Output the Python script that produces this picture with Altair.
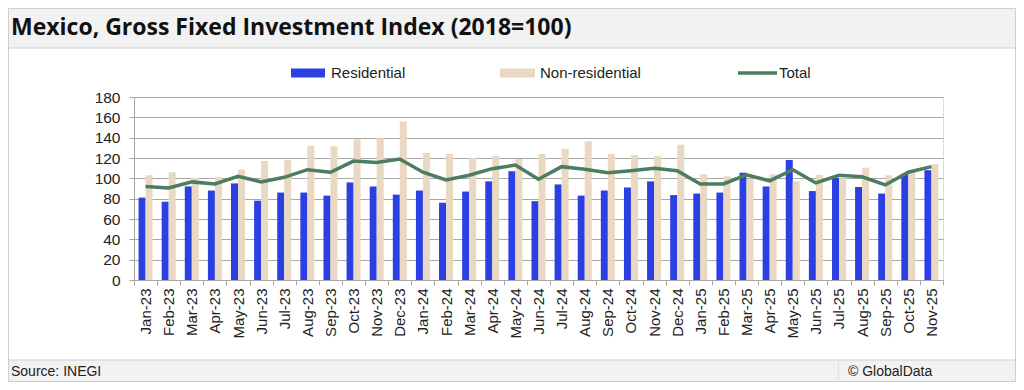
import altair as alt
import pandas as pd

months = ["Jan-23", "Feb-23", "Mar-23", "Apr-23", "May-23", "Jun-23", "Jul-23", "Aug-23",
          "Sep-23", "Oct-23", "Nov-23", "Dec-23", "Jan-24", "Feb-24", "Mar-24", "Apr-24",
          "May-24", "Jun-24", "Jul-24", "Aug-24", "Sep-24", "Oct-24", "Nov-24", "Dec-24",
          "Jan-25", "Feb-25", "Mar-25", "Apr-25", "May-25", "Jun-25", "Jul-25", "Aug-25",
          "Sep-25", "Oct-25", "Nov-25"]
residential = [81, 77, 92, 88, 95, 78, 86, 86, 83, 96, 92, 84,
               88, 76, 87, 97, 107, 77.5, 94, 83, 88, 91, 97, 83.5,
               85, 86, 105.5, 92, 118, 87.5, 100.5, 91.5, 85, 104.5, 108]
non_residential = [103, 106, 100.5, 101.5, 108.5, 117, 118, 132, 131.5, 138.5, 139.5, 156,
                   125, 124, 120, 122, 119, 124, 129, 136.5, 124, 123, 122, 133,
                   104, 102, 99.5, 104, 97, 103.5, 100, 110.5, 103, 106, 114]
total = [92, 90.5, 96.5, 94.5, 102, 96.5, 101, 108.5, 106, 117, 115.5, 119,
         106, 98.5, 103, 109.5, 113, 99, 111.5, 109, 105.5, 107.5, 110, 107.5,
         94.5, 94.5, 103.5, 97.5, 108.5, 95.5, 103, 101.5, 93.5, 106, 111.5]
series_names = ["Residential", "Non-residential", "Total"]

title_text = "Mexico, Gross Fixed Investment Index (2018=100)"
source_text = "Source: INEGI"
credit_text = "\u00a9 GlobalData"

n = len(months)
bars_df = pd.DataFrame({
    "month": months * 2,
    "series": [series_names[0]] * n + [series_names[1]] * n,
    "value": residential + non_residential,
})
line_df = pd.DataFrame({"month": months, "value": total})
dummy = pd.DataFrame({"d": [0]})

BLUE = "#2b3fe3"
BEIGE = "#e9d8c2"
GREEN = "#4b7d5e"
GRID = "#a8a8a8"
TXT = "#222222"
FONT = "Liberation Sans"

W, H = 809, 183

x_enc = alt.X(
    "month:N", sort=months,
    scale=alt.Scale(paddingInner=0, paddingOuter=0),
    axis=alt.Axis(title=None, labelAngle=270, labelFont=FONT, labelFontSize=15,
                  labelColor=TXT, tickBand="extent", tickSize=5, tickColor=GRID,
                  domainColor=GRID, labelPadding=3, grid=False),
)
y_enc = alt.Y(
    "value:Q",
    scale=alt.Scale(domain=[0, 180], nice=False),
    axis=alt.Axis(title=None, values=list(range(0, 181, 20)), labelFont=FONT,
                  labelFontSize=15.5, labelColor=TXT, tickSize=5, tickColor=GRID,
                  domainColor=GRID, gridColor=GRID, labelPadding=9),
)

bars = alt.Chart(bars_df).mark_bar().encode(
    x=x_enc,
    xOffset=alt.XOffset("series:N", sort=series_names[:2],
                        scale=alt.Scale(paddingInner=0, paddingOuter=0.65)),
    y=y_enc,
    color=alt.Color("series:N",
                    scale=alt.Scale(domain=series_names[:2], range=[BLUE, BEIGE]),
                    legend=None),
)

line = alt.Chart(line_df).mark_line(color=GREEN, strokeWidth=3.5).encode(
    x=x_enc, y=y_enc,
)


def rect(x, x2, y, y2, **kw):
    return alt.Chart(dummy).mark_rect(**kw).encode(
        x=alt.value(x), x2=alt.value(x2), y=alt.value(y), y2=alt.value(y2))


def text(x, y, s, **kw):
    return alt.Chart(dummy).mark_text(**kw).encode(
        x=alt.value(x), y=alt.value(y), text=alt.value(s))


# plot origin is at page (134, 97)
frame = rect(-125.5, 881.5, -88.5, 284.5, fillOpacity=0, stroke="#cfcfcf", strokeWidth=1)
title_bar = rect(-125.5, 881.5, -88.5, -49, fill="#f2f2f2", stroke="#cfcfcf", strokeWidth=1)
footer_bar = rect(-125.5, 881.5, 263, 284.5, fill="#f2f2f2", stroke="#cfcfcf", strokeWidth=1)
footer_div = rect(704, 704.5, 263, 284.5, fill="#cfcfcf")

title = text(-123, -62, title_text, font="Open Sans", fontSize=23, fontWeight="bold",
             color="#111111", align="left", baseline="alphabetic")
source = text(-123, 275, source_text, font=FONT, fontSize=14, color=TXT,
              align="left", baseline="middle")
credit = text(714, 275, credit_text, font=FONT, fontSize=14, color=TXT,
              align="left", baseline="middle")

leg_y = -24
leg_res = rect(157, 191, leg_y - 4.5, leg_y + 4.5, fill=BLUE)
leg_res_t = text(197, leg_y, series_names[0], font=FONT, fontSize=15, color=TXT,
                 align="left", baseline="middle")
leg_non = rect(366, 401, leg_y - 4.5, leg_y + 4.5, fill=BEIGE)
leg_non_t = text(406, leg_y, series_names[1], font=FONT, fontSize=15, color=TXT,
                 align="left", baseline="middle")
leg_tot = alt.Chart(dummy).mark_rule(color=GREEN, strokeWidth=3.5).encode(
    x=alt.value(604), x2=alt.value(643), y=alt.value(leg_y))
leg_tot_t = text(645, leg_y, series_names[2], font=FONT, fontSize=15, color=TXT,
                 align="left", baseline="middle")

chart = alt.layer(
    title_bar, footer_bar, footer_div,
    bars, line,
    leg_res, leg_res_t, leg_non, leg_non_t, leg_tot, leg_tot_t,
    title, source, credit, frame,
).properties(
    width=W, height=H,
    padding={"left": 126, "top": 89, "right": 73, "bottom": 102},
    autosize="none",
).configure_view(stroke=None).configure(background="white")

chart.save("out.html", embed_options={"renderer": "svg", "actions": False})
